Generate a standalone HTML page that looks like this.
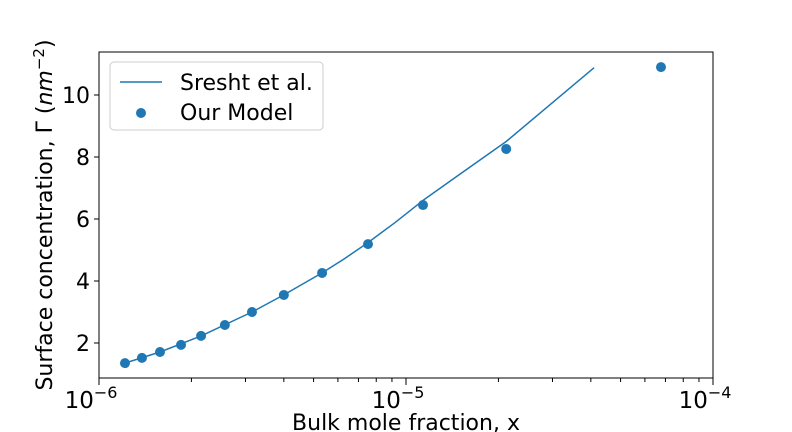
<!DOCTYPE html>
<html><head><meta charset="utf-8"><style>
body{margin:0;background:#fff;}
svg{display:block;font-family:"DejaVu Sans","Liberation Sans",sans-serif;}
</style></head><body>
<svg id="chart" width="792" height="432" viewBox="0 0 792 432">
<rect x="0" y="0" width="792" height="432" fill="#fff"/>
<g id="marks"></g>
<rect x="99" y="52" width="614" height="326" fill="none" stroke="#000" stroke-width="1"/>
<g id="axes"></g>
<text x="406" y="430" font-size="22" text-anchor="middle">Bulk mole fraction, x</text>
<text transform="translate(52,215) rotate(-90)" font-size="22" text-anchor="middle">Surface concentration, Γ (<tspan font-style="italic">nm</tspan><tspan dy="-8" font-size="15">−2</tspan><tspan dy="8">)</tspan></text>
<g>
<rect x="110" y="62" width="213" height="68" rx="4" fill="#fff" fill-opacity="0.8" stroke="#ccc"/>
<line x1="120" y1="82" x2="162" y2="82" stroke="#1f77b4" stroke-width="1.5"/>
<text x="180" y="90" font-size="22">Sresht et al.</text>
<circle cx="141" cy="113" r="5" fill="#1f77b4"/>
<text x="180" y="120" font-size="22">Our Model</text>
</g>
</svg>
<script>
const modelX=[1.215e-6,1.38e-6,1.58e-6,1.85e-6,2.15e-6,2.57e-6,3.15e-6,4.0e-6,5.33e-6,7.52e-6,1.136e-5,2.12e-5,6.77e-5];
const modelY=[1.35,1.52,1.71,1.94,2.23,2.58,3.0,3.55,4.26,5.19,6.45,8.26,10.9];
const lineX=[1.215e-6,1.58e-6,2.15e-6,3.15e-6,4.0e-6,5.33e-6,6.3e-6,7.52e-6,9.2e-6,1.136e-5,1.55e-5,2.12e-5,4.1e-5];
const lineY=[1.35,1.71,2.23,3.0,3.55,4.26,4.72,5.24,5.88,6.6,7.55,8.5,10.88];
const yTicks=[2,4,6,8,10];
const xTicks=[1e-6,1e-5,1e-4];
const xTickExp=["−6","−5","−4"];
const NS="http://www.w3.org/2000/svg";
function sx(v){return 99+(Math.log10(v)+6)*307;}
function sy(v){return 405-v*31;}
const marks=document.getElementById('marks'),axes=document.getElementById('axes');
let d=lineX.map((x,i)=>(i?'L':'M')+sx(x).toFixed(1)+','+sy(lineY[i]).toFixed(1)).join(' ');
const p=document.createElementNS(NS,'path');
p.setAttribute('d',d);p.setAttribute('fill','none');p.setAttribute('stroke','#1f77b4');p.setAttribute('stroke-width','1.5');p.setAttribute('stroke-linejoin','round');


marks.appendChild(p);
modelX.forEach((x,i)=>{const c=document.createElementNS(NS,'circle');
c.setAttribute('cx',sx(x));c.setAttribute('cy',sy(modelY[i]));c.setAttribute('r',5);c.setAttribute('fill','#1f77b4');


marks.appendChild(c);});
yTicks.forEach(t=>{const y=sy(t);
const l=document.createElementNS(NS,'line');l.setAttribute('x1',94);l.setAttribute('x2',99);l.setAttribute('y1',y);l.setAttribute('y2',y);l.setAttribute('stroke','#000');


axes.appendChild(l);
const tx=document.createElementNS(NS,'text');tx.setAttribute('x',90);tx.setAttribute('y',y+8);tx.setAttribute('font-size','22');tx.setAttribute('text-anchor','end');tx.textContent=t;


axes.appendChild(tx);});
xTicks.forEach((t,i)=>{const x=sx(t);
const l=document.createElementNS(NS,'line');l.setAttribute('x1',x);l.setAttribute('x2',x);l.setAttribute('y1',378);l.setAttribute('y2',385);l.setAttribute('stroke','#000');


axes.appendChild(l);
const tx=document.createElementNS(NS,'text');tx.setAttribute('x',x-8);tx.setAttribute('y',408);tx.setAttribute('font-size','23');tx.setAttribute('text-anchor','middle');
tx.innerHTML='10<tspan dy="-10" font-size="16">'+xTickExp[i]+'</tspan>';


axes.appendChild(tx);
for(let k=2;k<=9&&i<2;k++){const mx=sx(t*k);
const m=document.createElementNS(NS,'line');m.setAttribute('x1',mx);m.setAttribute('x2',mx);m.setAttribute('y1',378);m.setAttribute('y2',382);m.setAttribute('stroke','#000');


axes.appendChild(m);}});
</script>
</body></html>
